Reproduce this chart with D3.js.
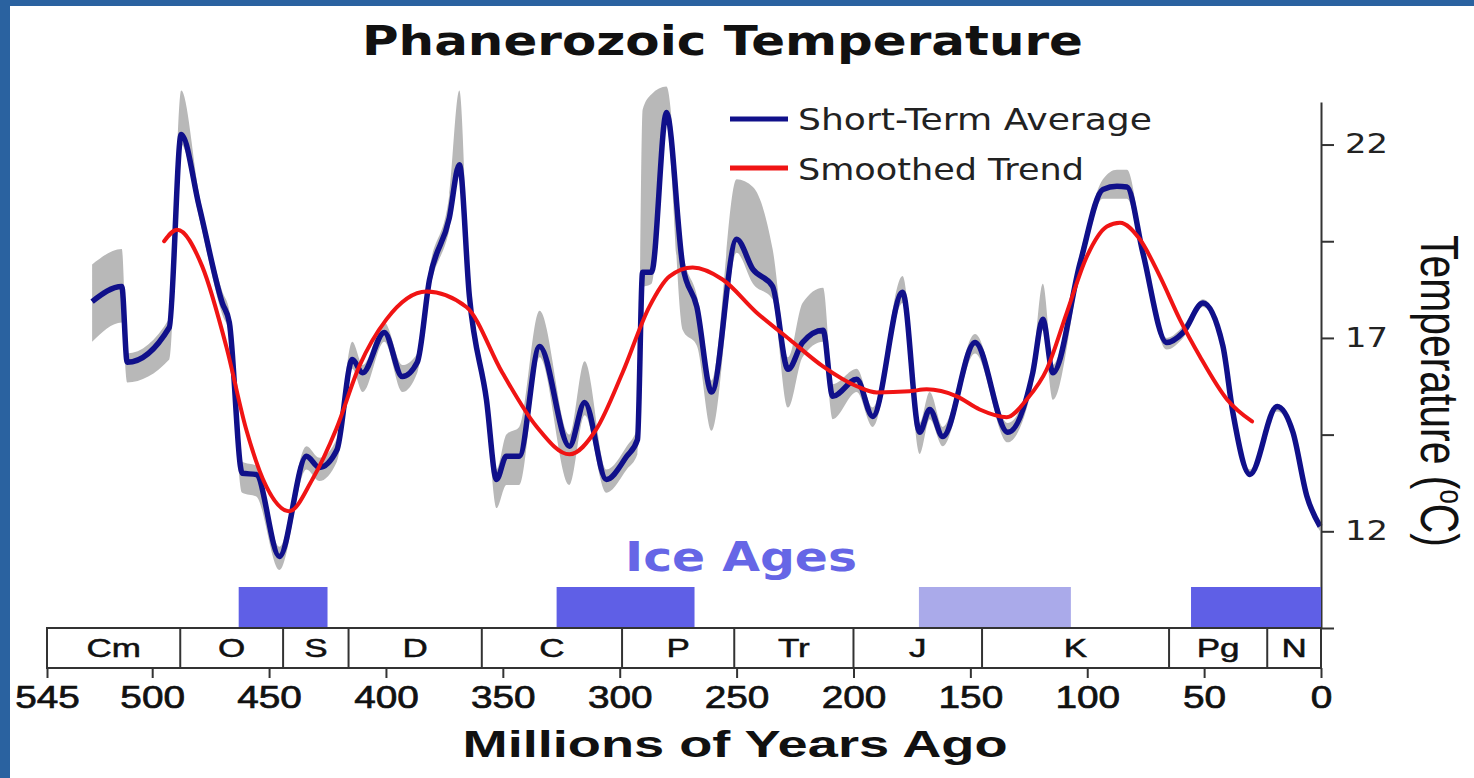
<!DOCTYPE html>
<html>
<head>
<meta charset="utf-8">
<script src="https://cdn.jsdelivr.net/npm/d3@7"></script>
<style>
  body { margin: 0; background: #fff; }
  svg { display: block; }
</style>
</head>
<body>
<div id="chart"></div>
<script>
// short-term average (My ago, deg C) with its grey range
var ages =      [525.7, 513, 510.7, 492.7, 487.6, 479.9, 470, 467, 461.5, 455.5, 445.6, 434, 428.5, 421, 414.4, 410, 400.7, 393, 386.6, 381.4, 372.9, 368.6, 364.3, 357, 352.7, 348.5, 343, 334.3, 321.5, 315, 305.7, 297, 292.4, 290.2, 286.4, 280, 273, 267, 260.7, 250, 243, 234.6, 228, 221.8, 213, 208.9, 198.6, 191.8, 179, 171.7, 167.4, 161.8, 148, 134, 123.3, 119, 114.7, 103, 93.3, 87.3, 83, 76.2, 66, 59, 50.5, 42, 37.7, 30.4, 18.8, 12, 6, 0.4];
var avgTemp =   [17.94, 18.33, 16.37, 17.27, 22.26, 20.4, 17.9, 17.4, 13.5, 13.47, 11.35, 13.94, 13.65, 14.1, 16.44, 16.1, 17.14, 16.0, 16.37, 18.5, 20.1, 21.48, 18.07, 15.4, 13.34, 13.94, 13.94, 16.78, 14.2, 15.33, 13.34, 13.94, 14.37, 18.7, 18.7, 22.83, 18.85, 17.8, 15.6, 19.55, 18.77, 18.33, 16.19, 16.88, 17.2, 15.49, 15.93, 14.97, 18.18, 14.56, 15.15, 14.45, 16.88, 14.56, 16.1, 17.48, 16.1, 18.95, 20.84, 20.92, 20.9, 19.2, 16.88, 17.14, 17.9, 16.8, 15.07, 13.47, 15.23, 14.56, 12.9, 12.13];
var rangeLow =  [16.9, 17.4, 15.85, 16.44, 22.0, 20.1, 17.6, 17.1, 13.0, 12.9, 11.0, 13.6, 13.3, 13.8, 16.2, 15.6, 16.9, 15.6, 16.1, 18.2, 19.8, 21.2, 17.8, 15.1, 12.6, 13.2, 13.2, 16.5, 13.2, 15.0, 13.0, 13.6, 14.0, 18.3, 18.4, 22.5, 17.2, 16.8, 14.6, 19.2, 18.4, 18.0, 15.2, 16.5, 16.9, 14.9, 15.6, 14.7, 17.9, 14.0, 14.9, 14.2, 16.6, 14.3, 15.8, 17.2, 15.4, 18.7, 20.6, 20.6, 20.6, 19.0, 16.7, 17.0, 17.8, 16.7, 15.0, 13.4, 15.1, 14.5, 12.8, 12.0];
var rangeHigh = [18.9, 19.3, 16.6, 17.5, 23.4, 20.7, 18.2, 17.7, 13.8, 13.7, 11.6, 14.2, 13.9, 14.4, 16.9, 16.3, 17.4, 16.3, 16.6, 18.8, 20.7, 23.4, 18.4, 15.7, 13.6, 14.5, 14.7, 17.7, 14.5, 16.4, 13.6, 14.2, 14.7, 22.9, 23.3, 23.5, 19.2, 18.1, 15.9, 21.1, 20.9, 19.3, 16.5, 17.9, 18.3, 15.8, 16.2, 15.2, 18.6, 14.8, 15.6, 14.7, 17.1, 14.8, 16.3, 18.4, 16.3, 19.2, 21.1, 21.35, 21.35, 19.4, 17.0, 17.3, 18.0, 16.9, 15.2, 13.6, 15.3, 14.7, 13.0, 12.2];

// smoothed trend
var trendAges = [494.9, 489.3, 478.6, 468.3, 459.8, 451.2, 441.4, 431.5, 421.3, 411.4, 399.8, 382.7, 365.6, 350.2, 335.6, 321.5, 310, 298.8, 287.3, 278.7, 268.8, 256, 241.5, 227.3, 213.2, 198.6, 190, 176, 168.7, 155.8, 146, 134.4, 125.9, 117.3, 108.7, 100.2, 91.6, 86, 77.5, 68.9, 60.4, 51.8, 40.2, 29.5];
var trendTemp = [19.5, 19.8, 18.85, 16.78, 14.64, 13.16, 12.52, 13.34, 14.64, 16.27, 17.48, 18.2, 17.8, 16.1, 14.71, 13.99, 14.64, 16.1, 17.81, 18.59, 18.82, 18.51, 17.66, 16.96, 16.27, 15.75, 15.59, 15.62, 15.67, 15.49, 15.15, 14.95, 15.41, 16.19, 17.66, 19.1, 19.88, 19.98, 19.55, 18.59, 17.48, 16.52, 15.41, 14.84];

// geologic periods
var periodNames = ["Cm", "O", "S", "D", "C", "P", "Tr", "J", "K", "Pg", "N"];
var periodStart = [545, 488, 444, 416, 359, 299, 251, 200, 145, 65, 23];
var periodEnd =   [488, 444, 416, 359, 299, 251, 200, 145, 65, 23, 0];

// ice ages
var iceStart = [463, 327, 172, 55.6];
var iceEnd =   [425, 268, 107, 0];
var iceLight = [false, false, true, false];

var xTicks = [545, 500, 450, 400, 350, 300, 250, 200, 150, 100, 50, 0];
var yTicks = [9.5, 12, 14.5, 17, 19.5, 22];
var yTickLabels = ["", "12", "", "17", "", "22"];

var legendNames = ["Short-Term Average", "Smoothed Trend"];
var legendColors = ["#10108a", "#f01414"];

var W = 1474, H = 778;
var boxTop = 628, boxBottom = 668;

var svg = d3.select("#chart").append("svg")
  .attr("width", W)
  .attr("height", H);

// frame
svg.append("rect").attr("width", W).attr("height", H).attr("fill", "#fff");
svg.append("rect").attr("width", W).attr("height", 6).attr("fill", "#2a62a0");
svg.append("rect").attr("width", 10).attr("height", H).attr("fill", "#2a62a0");

var x = d3.scaleLinear().domain([545, 0]).range([47, 1321]);
var y = d3.scaleLinear().domain([9.5, 23.1]).range([boxTop, 102]);

function stretch(sel, k) {
  sel.each(function() {
    var n = this.getComputedTextLength();
    if (n > 0) d3.select(this).attr("textLength", n * k).attr("lengthAdjust", "spacingAndGlyphs");
  });
}

// grey range band
var band = ages.map(function(a, i) { return {age: a, lo: rangeLow[i], hi: rangeHigh[i]}; });
svg.append("path")
  .datum(band)
  .attr("fill", "#b8b8b8")
  .attr("d", d3.area()
    .x(function(d) { return x(d.age); })
    .y0(function(d) { return y(d.lo); })
    .y1(function(d) { return y(d.hi); })
    .curve(d3.curveMonotoneX));

// short-term average
var avg = ages.map(function(a, i) { return {age: a, t: avgTemp[i]}; });
svg.append("path")
  .datum(avg)
  .attr("fill", "none")
  .attr("stroke", legendColors[0])
  .attr("stroke-width", 5.5)
  .attr("stroke-linejoin", "round")
  .attr("d", d3.line()
    .x(function(d) { return x(d.age); })
    .y(function(d) { return y(d.t); })
    .curve(d3.curveMonotoneX));

// smoothed trend
var trend = trendAges.map(function(a, i) { return {age: a, t: trendTemp[i]}; });
svg.append("path")
  .datum(trend)
  .attr("fill", "none")
  .attr("stroke", legendColors[1])
  .attr("stroke-width", 4)
  .attr("stroke-linecap", "round")
  .attr("d", d3.line()
    .x(function(d) { return x(d.age); })
    .y(function(d) { return y(d.t); })
    .curve(d3.curveMonotoneX));

// title
svg.append("text")
  .attr("x", 722.5).attr("y", 55)
  .attr("text-anchor", "middle")
  .style("font-family", "DejaVu Sans")
  .style("font-weight", "bold")
  .style("font-size", "41px")
  .attr("fill", "#111")
  .attr("textLength", 721).attr("lengthAdjust", "spacingAndGlyphs")
  .text("Phanerozoic Temperature");

// legend
var leg = svg.selectAll(".leg").data(legendNames).enter().append("g").attr("class", "leg");
leg.append("line")
  .attr("x1", 730).attr("x2", 788)
  .attr("y1", function(d, i) { return 119 + i * 49; })
  .attr("y2", function(d, i) { return 119 + i * 49; })
  .attr("stroke", function(d, i) { return legendColors[i]; })
  .attr("stroke-width", 5);
leg.append("text")
  .attr("x", 798)
  .attr("y", function(d, i) { return 130 + i * 50; })
  .style("font-family", "DejaVu Sans")
  .style("font-size", "30px")
  .attr("fill", "#222")
  .attr("textLength", function(d, i) { return i ? 286 : 354; })
  .attr("lengthAdjust", "spacingAndGlyphs")
  .text(function(d) { return d; });

// right temperature axis
var yAxis = svg.append("g")
  .attr("transform", "translate(1321,0)")
  .call(d3.axisRight(y).tickValues(yTicks).tickSize(13).tickSizeOuter(0)
    .tickFormat(function(d, i) { return yTickLabels[i]; }));
yAxis.select(".domain").attr("stroke", "#333").attr("stroke-width", 2);
yAxis.selectAll(".tick line").attr("stroke", "#333").attr("stroke-width", 2);
yAxis.selectAll(".tick text")
  .attr("x", 24)
  .style("font-family", "DejaVu Sans")
  .style("font-size", "26px")
  .attr("fill", "#222");
stretch(yAxis.selectAll(".tick text"), 1.3);

var yLab = svg.append("text")
  .attr("text-anchor", "middle")
  .style("font-family", "Liberation Sans")
  .style("font-size", "44px")
  .attr("fill", "#111");
yLab.append("tspan").text("Temperature (");
yLab.append("tspan").attr("dy", -16).style("font-size", "28px").text("o");
yLab.append("tspan").attr("dy", 16).text("C)");
var yk = 312 / yLab.node().getComputedTextLength();
yLab.attr("transform", "translate(1421,391) rotate(90) scale(" + yk + ",1.2)");

// ice ages
svg.append("text")
  .attr("x", 741).attr("y", 571)
  .attr("text-anchor", "middle")
  .style("font-family", "DejaVu Sans")
  .style("font-weight", "bold")
  .style("font-size", "41px")
  .attr("fill", "#6666e6")
  .attr("textLength", 232).attr("lengthAdjust", "spacingAndGlyphs")
  .text("Ice Ages");

svg.selectAll(".ice").data(iceStart).enter().append("rect")
  .attr("class", "ice")
  .attr("x", function(d) { return x(d); })
  .attr("width", function(d, i) { return x(iceEnd[i]) - x(d); })
  .attr("y", 587)
  .attr("height", boxTop - 587)
  .attr("fill", function(d, i) { return iceLight[i] ? "#aaaaea" : "#5f5fe6"; });

// period strip
svg.append("rect")
  .attr("x", x(545)).attr("y", boxTop)
  .attr("width", x(0) - x(545)).attr("height", boxBottom - boxTop)
  .attr("fill", "#fff").attr("stroke", "#333").attr("stroke-width", 2);

var per = svg.selectAll(".per").data(periodNames).enter().append("g").attr("class", "per");
per.append("line")
  .attr("x1", function(d, i) { return x(periodEnd[i]); })
  .attr("x2", function(d, i) { return x(periodEnd[i]); })
  .attr("y1", boxTop).attr("y2", boxBottom)
  .attr("stroke", "#333").attr("stroke-width", 2);
per.append("text")
  .attr("x", function(d, i) { return (x(periodStart[i]) + x(periodEnd[i])) / 2; })
  .attr("y", 657)
  .attr("text-anchor", "middle")
  .style("font-family", "Liberation Sans")
  .style("font-size", "25px")
  .attr("fill", "#111")
  .attr("stroke", "#111")
  .attr("stroke-width", 0.5)
  .text(function(d) { return d; });
stretch(per.selectAll("text"), 1.4);

// bottom age axis
var xAxis = svg.append("g")
  .attr("transform", "translate(0," + boxBottom + ")")
  .call(d3.axisBottom(x).tickValues(xTicks).tickSize(10).tickSizeOuter(0));
xAxis.select(".domain").remove();
xAxis.selectAll(".tick line").attr("stroke", "#333").attr("stroke-width", 2);
xAxis.selectAll(".tick text")
  .attr("y", 40).attr("dy", 0)
  .style("font-family", "Liberation Sans")
  .style("font-size", "31px")
  .attr("fill", "#111")
  .attr("stroke", "#111")
  .attr("stroke-width", 0.7);
stretch(xAxis.selectAll(".tick text"), 1.25);

svg.append("text")
  .attr("x", 735).attr("y", 757)
  .attr("text-anchor", "middle")
  .style("font-family", "Liberation Sans")
  .style("font-weight", "bold")
  .style("font-size", "37px")
  .attr("fill", "#111")
  .attr("textLength", 545).attr("lengthAdjust", "spacingAndGlyphs")
  .text("Millions of Years Ago");
</script>
</body>
</html>
